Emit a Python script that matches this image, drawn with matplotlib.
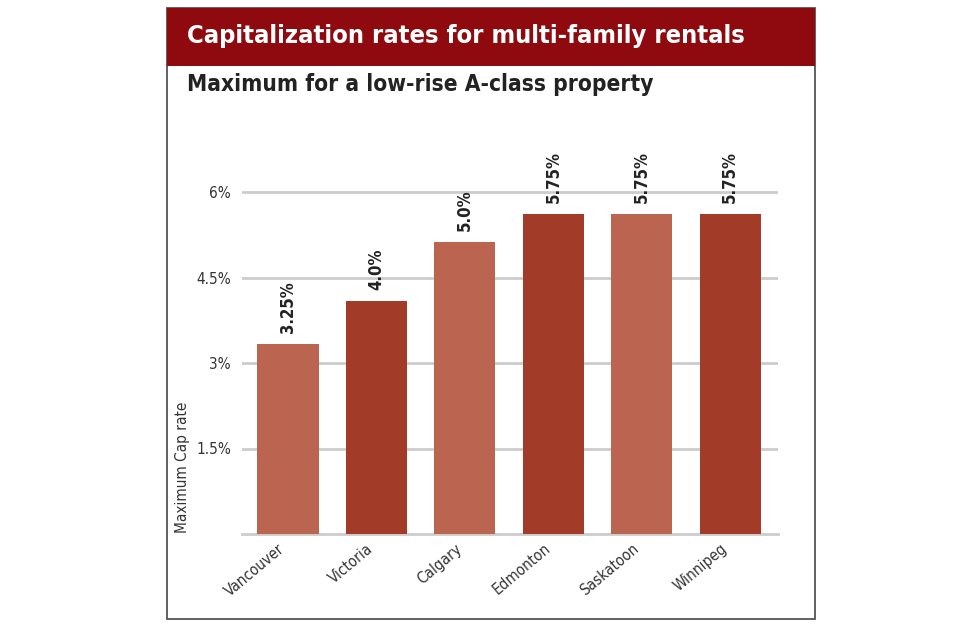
import matplotlib
matplotlib.use("Agg")
import matplotlib.pyplot as plt
import matplotlib.transforms as mtransforms
from matplotlib.patches import Rectangle

cities = ["Vancouver", "Victoria", "Calgary", "Edmonton", "Saskatoon", "Winnipeg"]
# bar heights as drawn in the graphic (%), and the printed labels
heights = [3.33, 4.09, 5.12, 5.61, 5.61, 5.61]
value_labels = ["3.25%", "4.0%", "5.0%", "5.75%", "5.75%", "5.75%"]
y_ticks = [1.5, 3, 4.5, 6]
y_tick_labels = ["1.5%", "3%", "4.5%", "6%"]

LIGHT = "#bb6550"
DARK = "#a33b29"
HEADER = "#8e0a0e"

plt.rcParams["font.family"] = ["DejaVu Sans"]
plt.rcParams["font.stretch"] = "condensed"

W, H = 960, 635
fig = plt.figure(figsize=(W / 100, H / 100), dpi=100)


def fx(px):
    return px / W


def fy(py):
    return 1 - py / H


# outer frame and header band
fig.patches.append(Rectangle((fx(167), fy(619)), fx(815) - fx(167), fy(8) - fy(619),
                             transform=fig.transFigure, fill=False, ec="#555555", lw=1.3))
fig.patches.append(Rectangle((fx(167), fy(66)), fx(815) - fx(167), fy(8) - fy(66),
                             transform=fig.transFigure, fc=HEADER, ec="none"))
fig.text(fx(187), fy(36), "Capitalization rates for multi-family rentals", color="white",
         fontsize=18.3, fontweight="bold", va="center", ha="left")
fig.text(fx(187), fy(85), "Maximum for a low-rise A-class property", color="#222222",
         fontsize=16.3, fontweight="bold", va="center", ha="left")

ymax = 6.6
ax = fig.add_axes([fx(242), fy(534), fx(778) - fx(242), (534 - 192) / 6 * ymax / H])
x = range(len(cities))
colors = [LIGHT if i % 2 == 0 else DARK for i in x]
ax.bar(x, heights, width=0.69, color=colors, zorder=3)
ax.set_xlim(-0.52, 5.54)
ax.set_ylim(0, ymax)

for i, (h, lab) in enumerate(zip(heights, value_labels)):
    ax.annotate(lab, (i, h), xytext=(0, 8), textcoords="offset points", rotation=90,
                ha="center", va="bottom", fontsize=12, fontweight="bold", color="#222222")

ax.set_yticks(y_ticks)
ax.set_yticklabels(y_tick_labels, fontsize=11, color="#333333")
ax.yaxis.grid(True, color="#cccccc", lw=2, zorder=0)
ax.axhline(0, color="#cccccc", lw=2, zorder=2, clip_on=False)
ax.set_xticks(list(x))
ax.set_xticklabels(cities, rotation=40, ha="right", rotation_mode="anchor",
                   fontsize=11, color="#333333")
ax.tick_params(axis="both", length=0)
ax.tick_params(axis="y", pad=8)
ax.tick_params(axis="x", pad=5)
# nudge city names left so they end just left of the bar centre
shift = mtransforms.ScaledTranslation(-10 / 100, 0, fig.dpi_scale_trans)
for t in ax.get_xticklabels():
    t.set_transform(t.get_transform() + shift)
for s in ax.spines.values():
    s.set_visible(False)

fig.text(fx(182), fy(467), "Maximum Cap rate", rotation=90, ha="center", va="center",
         fontsize=11, color="#333333")

fig.savefig("out.png", dpi=100)
